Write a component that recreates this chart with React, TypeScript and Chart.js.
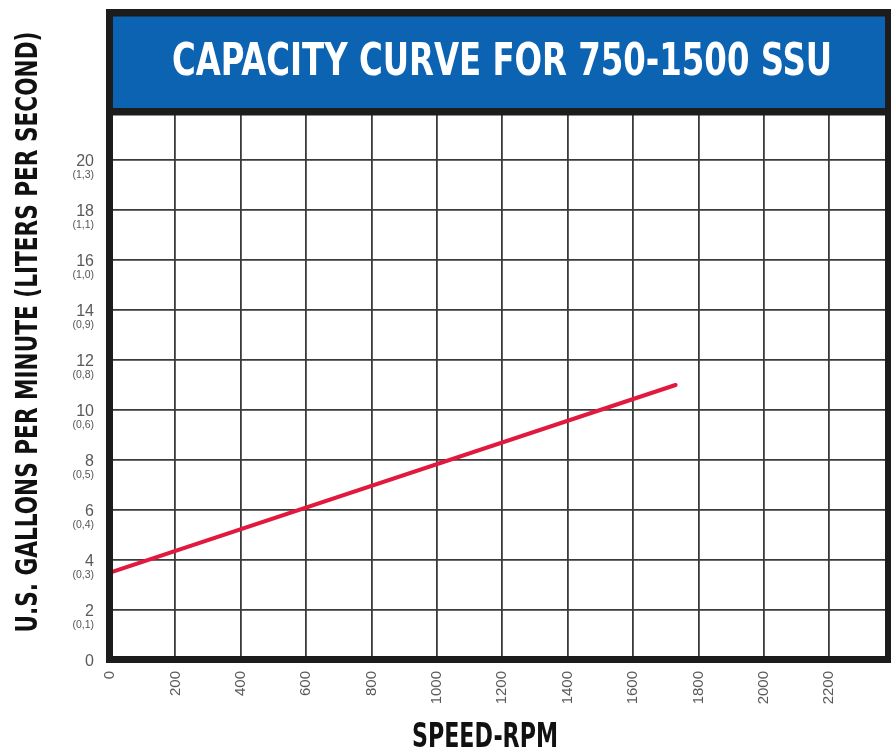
import React, { useEffect, useRef } from "react";
import { Chart, registerables } from "chart.js";

Chart.register(...registerables);

// ---- data ----
const speedRpm = [0, 1730];
const flowGpm = [3.5, 11.0];
const xTickValues = [0, 200, 400, 600, 800, 1000, 1200, 1400, 1600, 1800, 2000, 2200];
const yTickValues = [0, 2, 4, 6, 8, 10, 12, 14, 16, 18, 20];
const litersPerSecond = ["", "(0,1)", "(0,3)", "(0,4)", "(0,5)", "(0,6)", "(0,8)", "(0,9)", "(1,0)", "(1,1)", "(1,3)"];
const chartTitle = "CAPACITY CURVE FOR 750-1500 SSU";
const xAxisTitle = "SPEED-RPM";
const yAxisTitle = "U.S. GALLONS PER MINUTE (LITERS PER SECOND)";

const CONDENSED = '"Liberation Sans Narrow", "DejaVu Sans Condensed", "Roboto", "Liberation Sans", sans-serif';
const PLAIN = '"Liberation Sans", Arial, sans-serif';

function fitText(
  ctx: CanvasRenderingContext2D,
  text: string,
  cx: number,
  baseline: number,
  targetWidth: number,
  size: number,
  color: string,
  rotate: boolean
) {
  ctx.save();
  ctx.font = `bold ${size}px ${CONDENSED}`;
  const w = ctx.measureText(text).width;
  const sx = targetWidth / w;
  ctx.fillStyle = color;
  ctx.textAlign = "center";
  ctx.textBaseline = "alphabetic";
  if (rotate) {
    ctx.translate(baseline, cx);
    ctx.rotate(-Math.PI / 2);
    ctx.scale(sx, 1);
    ctx.fillText(text, 0, 0);
  } else {
    ctx.translate(cx, baseline);
    ctx.scale(sx, 1);
    ctx.fillText(text, 0, 0);
  }
  ctx.restore();
}

const framePlugin = {
  id: "frameAndTitles",
  afterDraw(chart: any) {
    const ctx: CanvasRenderingContext2D = chart.ctx;
    const { left, top, bottom } = chart.chartArea;
    const W = chart.width;
    const dark = "#1c1c1c";
    ctx.save();
    ctx.fillStyle = "#0b63b2";
    ctx.fillRect(left + 3, 16, W - 6 - (left + 3), top - 2 - 16);
    ctx.fillStyle = dark;
    ctx.fillRect(left - 4, 9, W - (left - 4), 7.5);
    ctx.fillRect(left - 4, top - 2, W - (left - 4), 7.5);
    ctx.fillRect(left - 4, 9, 7, bottom + 3 - 9);
    ctx.fillRect(W - 6, 9, 6, bottom + 3 - 9);
    ctx.fillRect(left - 4, bottom - 4, W - (left - 4), 7);
    ctx.restore();

    const yScale = chart.scales.y;
    ctx.save();
    ctx.font = `10.5px ${PLAIN}`;
    ctx.fillStyle = "#555";
    ctx.textAlign = "right";
    ctx.textBaseline = "middle";
    yTickValues.forEach((v, i) => {
      const s = litersPerSecond[i];
      if (!s) return;
      ctx.fillText(s, 94, yScale.getPixelForValue(v) + 15.5);
    });
    ctx.restore();

    fitText(ctx, chartTitle, 502, 75, 660, 44, "#ffffff", false);
    fitText(ctx, xAxisTitle, 485, 747, 146, 33, "#111", false);
    fitText(ctx, yAxisTitle, 332, 37, 601, 30, "#111", true);
  },
};

export default function App() {
  const ref = useRef<HTMLCanvasElement | null>(null);
  useEffect(() => {
    if (!ref.current) return;
    const chart = new Chart(ref.current, {
      type: "line",
      data: {
        datasets: [
          {
            data: speedRpm.map((x, i) => ({ x, y: flowGpm[i] })),
            borderColor: "#e2193f",
            borderWidth: 4,
            borderCapStyle: "round",
            pointRadius: 0,
            fill: false,
          },
        ],
      },
      options: {
        responsive: false,
        animation: false,
        layout: { padding: { top: 110, right: 3, left: 0, bottom: 0 } },
        plugins: { legend: { display: false }, tooltip: { enabled: false }, title: { display: false } },
        scales: {
          x: {
            type: "linear",
            min: 0,
            max: 2380,
            afterBuildTicks: (s: any) => {
              s.ticks = xTickValues.map((v) => ({ value: v }));
            },
            afterFit: (s: any) => {
              s.height = 91;
            },
            grid: { color: "#3a3a3a", lineWidth: 1.8, drawTicks: false },
            border: { display: false },
            ticks: {
              autoSkip: false,
              minRotation: 90,
              maxRotation: 90,
              padding: 11,
              color: "#5a5a5a",
              font: { family: PLAIN, size: 15 },
              callback: (v: any) => String(v),
            },
          },
          y: {
            type: "linear",
            min: 0,
            max: 22,
            afterBuildTicks: (s: any) => {
              s.ticks = yTickValues.map((v) => ({ value: v }));
            },
            afterFit: (s: any) => {
              s.width = 110;
            },
            grid: { color: "#3a3a3a", lineWidth: 1.8, drawTicks: false },
            border: { display: false },
            ticks: {
              padding: 16,
              labelOffset: 2,
              color: "#5a5a5a",
              font: { family: PLAIN, size: 16 },
              callback: (v: any) => String(v),
            },
          },
        },
      },
      plugins: [framePlugin],
    } as any);
    return () => chart.destroy();
  }, []);
  return (
    <div style={{ position: "absolute", left: 0, top: 0, width: 891, height: 751, background: "#fff" }}>
      <canvas ref={ref} width={891} height={751} style={{ display: "block" }} />
    </div>
  );
}
